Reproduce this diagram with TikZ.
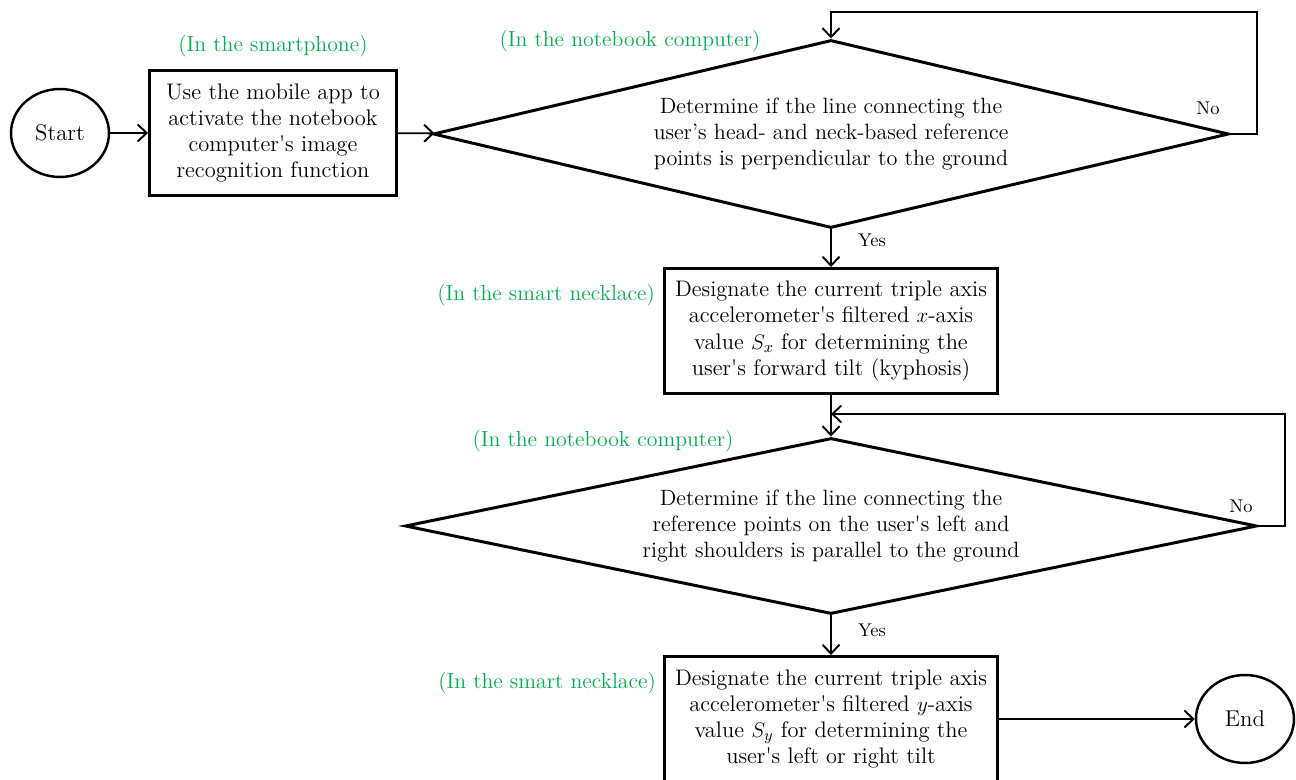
\documentclass[tikz,border=0pt]{standalone}
\usepackage{fontspec}
\usepackage{xcolor}
\usepackage{tikz}
\usetikzlibrary{shapes.geometric, arrows.meta, positioning}
\definecolor{placegreen}{RGB}{0, 176, 80}

\begin{document}
\begin{tikzpicture}[x=0.02cm, y=-0.02cm,
    box/.style={draw, line width=1.7pt, minimum width=#1, minimum height=2.5cm, align=center, inner sep=2pt, font=\fontsize{12.8}{14.9}\selectfont},
    box/.default=6.68cm,
    decision/.style={draw, diamond, line width=1.7pt, aspect=4.2, inner sep=0pt, align=center, font=\fontsize{12.6}{14.8}\selectfont},
    terminal/.style={draw, ellipse, line width=1.4pt, minimum width=1.96cm, minimum height=1.76cm, font=\fontsize{13}{15}\selectfont},
    place/.style={text=placegreen, font=\fontsize{12.4}{14}\selectfont, inner sep=1pt},
    answer/.style={font=\fontsize{10.5}{12}\selectfont, inner sep=1pt},
    arrow/.style={-{Straight Barb[length=1.8mm, width=3.4mm]}, line width=1.1pt}
]
    \useasboundingbox (0,0) rectangle (1296,780);

    % main chain
    \node[terminal] (start) at (60,133) {Start};
    \node[box=4.94cm] (b1) at (273,133) {Use the mobile app to\\ activate the notebook\\ computer\textquotesingle s image\\ recognition function};
    \node[decision, minimum width=15.92cm, minimum height=3.76cm] (d1) at (831,134) {Determine if the line connecting the\\ user's head- and neck-based reference\\ points is perpendicular to the ground};
    \node[box] (b2) at (831,331) {Designate the current triple axis\\ accelerometer\textquotesingle s filtered $x$-axis\\ value $S_x$ for determining the\\ user\textquotesingle s forward tilt (kyphosis)};
    \node[decision, minimum width=17.04cm, minimum height=3.52cm] (d2) at (831,526) {Determine if the line connecting the\\ reference points on the user\textquotesingle s left and\\ right shoulders is parallel to the ground};
    \node[box] (b3) at (831,719) {Designate the current triple axis\\ accelerometer\textquotesingle s filtered $y$-axis\\ value $S_y$ for determining the\\ user\textquotesingle s left or right tilt};
    \node[terminal] (end) at (1245,719) {End};

    % where each step runs
    \node[place, above=0.2cm of b1] (p1) {(In the smartphone)};
    \node[place] (p2) at (630,41) {(In the notebook computer)};
    \node[place, anchor=east] (p3) at (657,295) {(In the smart necklace)};
    \node[place] (p4) at (603,441) {(In the notebook computer)};
    \node[place, anchor=east] (p5) at (658,683) {(In the smart necklace)};

    % loop points
    \coordinate (loop1) at (1257,12);
    \coordinate (loop2) at (1285,414);
    \coordinate (join2) at (d2.north |- loop2);

    \draw[arrow] (start) -- (b1);
    \draw[arrow] (b1) -- (d1);
    \draw[arrow] (d1.east) -| (loop1) -| (d1.north);
    \draw[arrow] (d1) -- (b2);
    \draw[arrow] (b2) -- (d2);
    \draw[arrow] (d2.east) -| (loop2) -- (join2);
    \draw[arrow] (d2) -- (b3);
    \draw[arrow] (b3) -- (end);

    \node[answer] (no1) at (1208,108) {No};
    \node[answer] (yes1) at (872,240) {Yes};
    \node[answer] (no2) at (1241,506) {No};
    \node[answer] (yes2) at (872,630) {Yes};
\end{tikzpicture}
\end{document}
